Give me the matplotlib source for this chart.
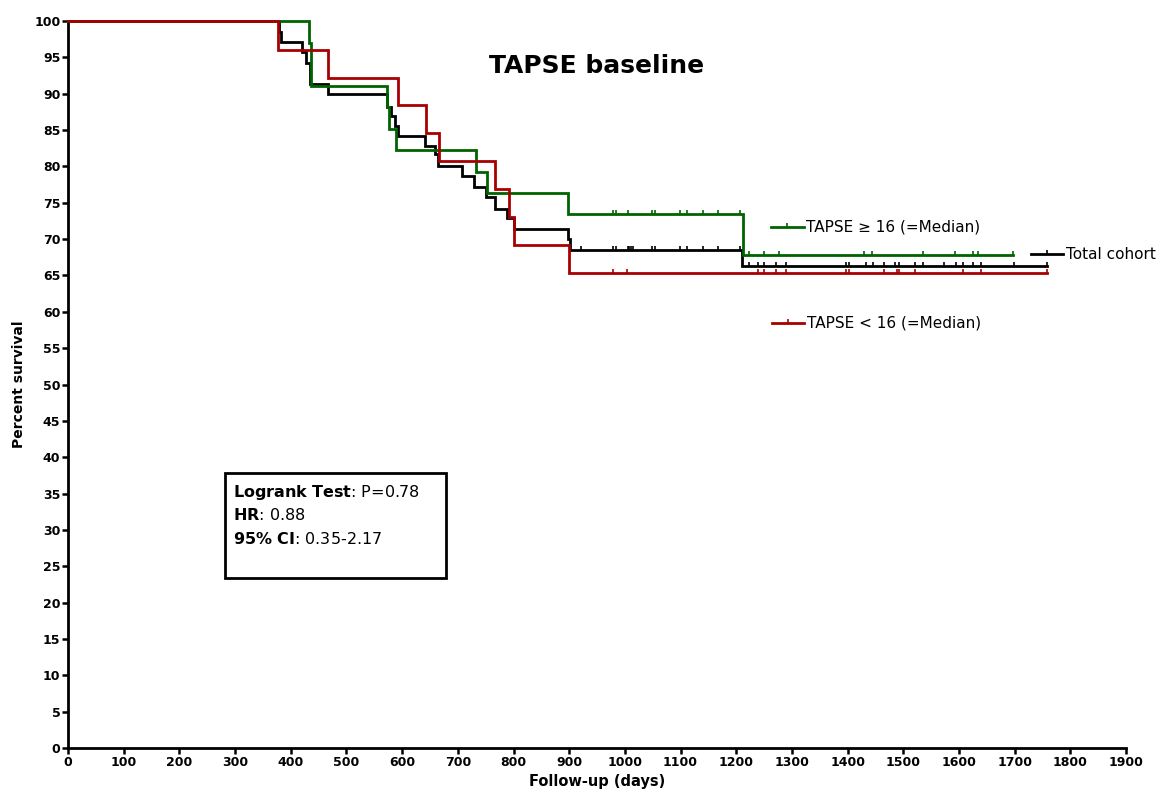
import matplotlib
matplotlib.use("Agg")
import matplotlib.pyplot as plt
from matplotlib.patches import Rectangle
import numpy as np

# Kaplan-Meier step data (event times in days, survival in percent)
low_times = [0, 377, 466, 592, 642, 666, 767, 792, 801, 900]
low_surv = [100, 96.0, 92.2, 88.4, 84.6, 80.7, 76.9, 73.0, 69.2, 65.4]
low_end = 1758
low_censor = [978, 1004, 1239, 1249, 1271, 1289, 1397, 1403, 1466, 1488, 1493,
              1521, 1607, 1640, 1758]

high_times = [0, 432, 436, 573, 577, 589, 732, 752, 897, 1213]
high_surv = [100, 97.0, 91.1, 88.2, 85.2, 82.3, 79.3, 76.4, 73.5, 67.8]
high_end = 1697
high_censor = [978, 984, 1005, 1048, 1055, 1099, 1112, 1140, 1168, 1206, 1223,
               1249, 1277, 1430, 1443, 1536, 1592, 1626, 1635, 1697]

total_times = [0, 378, 383, 420, 427, 435, 466, 573, 580, 588, 592, 641, 659,
               665, 707, 729, 750, 767, 789, 801, 897, 902, 1211]
total_surv = [100, 98.5, 97.1, 95.8, 94.2, 91.4, 89.9, 88.2, 86.9, 85.6, 84.2,
              82.8, 81.7, 80.1, 78.7, 77.2, 75.75, 74.2, 72.9, 71.35, 70.0,
              68.5, 66.3]
total_end = 1758
total_censor = [921, 978, 984, 1005, 1008, 1011, 1015, 1048, 1055, 1099, 1112,
                1140, 1168, 1206, 1223, 1239, 1249, 1271, 1289, 1397, 1403,
                1433, 1445, 1466, 1485, 1493, 1521, 1536, 1573, 1594, 1607,
                1626, 1640, 1698, 1758]

x_ticks = list(range(0, 2000, 100))
y_ticks = list(range(0, 105, 5))

GREEN = "#006400"
RED = "#a80000"
BLACK = "#000000"

plt.rcParams["font.family"] = ["DejaVu Sans"]

fig = plt.figure(figsize=(11.63, 8.02), dpi=100)
ax = fig.add_axes([0.0585, 0.0673, 0.9097, 0.9065])

tick_marker = [(0, 0), (0, 1)]


def surv_at(times, surv, t):
    idx = np.searchsorted(times, t, side="right") - 1
    return surv[idx]


def km(times, surv, end, censor, color, z):
    xs = list(times) + [end]
    ys = list(surv) + [surv[-1]]
    ax.step(xs, ys, where="post", color=color, lw=2.0, zorder=z,
            clip_on=False, solid_joinstyle="miter")
    cy = [surv_at(times, surv, c) for c in censor]
    ax.plot(censor, cy, ls="none", marker=tick_marker, ms=6, mew=1.2,
            color=color, zorder=z, clip_on=False)


km(total_times, total_surv, total_end, total_censor, BLACK, 3)
km(high_times, high_surv, high_end, high_censor, GREEN, 4)
km(low_times, low_surv, low_end, low_censor, RED, 5)


def legend_item(x0, x1, y, color, label, tx):
    ax.plot([x0, x1], [y, y], color=color, lw=2.0, clip_on=False)
    ax.plot([(x0 + x1) / 2], [y], ls="none", marker=tick_marker, ms=6,
            mew=1.2, color=color, clip_on=False)
    ax.text(tx, y, label, fontsize=11, va="center", ha="left",
            clip_on=False)


legend_item(1262, 1321, 71.6, GREEN, "TAPSE \u2265 16 (=Median)", 1326)
legend_item(1264, 1321, 58.5, RED, "TAPSE < 16 (=Median)", 1327)
legend_item(1729, 1786, 67.9, BLACK, "Total cohort", 1792)

ax.text(950, 93.8, "TAPSE baseline", fontsize=18, fontweight="bold",
        ha="center", va="center")

ax.add_patch(Rectangle((282, 23.4), 397, 14.43, fill=False, lw=2.0,
                       edgecolor="black", zorder=6))
stats = [r"$\mathbf{Logrank\ Test}$: P=0.78",
         r"$\mathbf{HR}$: 0.88",
         r"$\mathbf{95\%\ CI}$: 0.35-2.17"]
for i, line in enumerate(stats):
    ax.text(296, 35.2 - 3.2 * i, line, fontsize=11.5, ha="left",
            va="center", zorder=7)

ax.set_xlim(0, 1900)
ax.set_ylim(0, 100)
ax.set_xticks(x_ticks)
ax.set_yticks(y_ticks)
for lab in ax.get_xticklabels() + ax.get_yticklabels():
    lab.set_fontweight("bold")
ax.tick_params(axis="both", labelsize=9, width=1.8, length=4, pad=1.5,
               direction="out")
for side in ("top", "right"):
    ax.spines[side].set_visible(False)
for side in ("left", "bottom"):
    ax.spines[side].set_linewidth(2.0)

ax.set_xlabel("Follow-up (days)", fontsize=10.5, fontweight="bold",
              labelpad=4)
ax.set_ylabel("Percent survival", fontsize=10, fontweight="bold",
              labelpad=6)

fig.savefig("out.png", dpi=100)
